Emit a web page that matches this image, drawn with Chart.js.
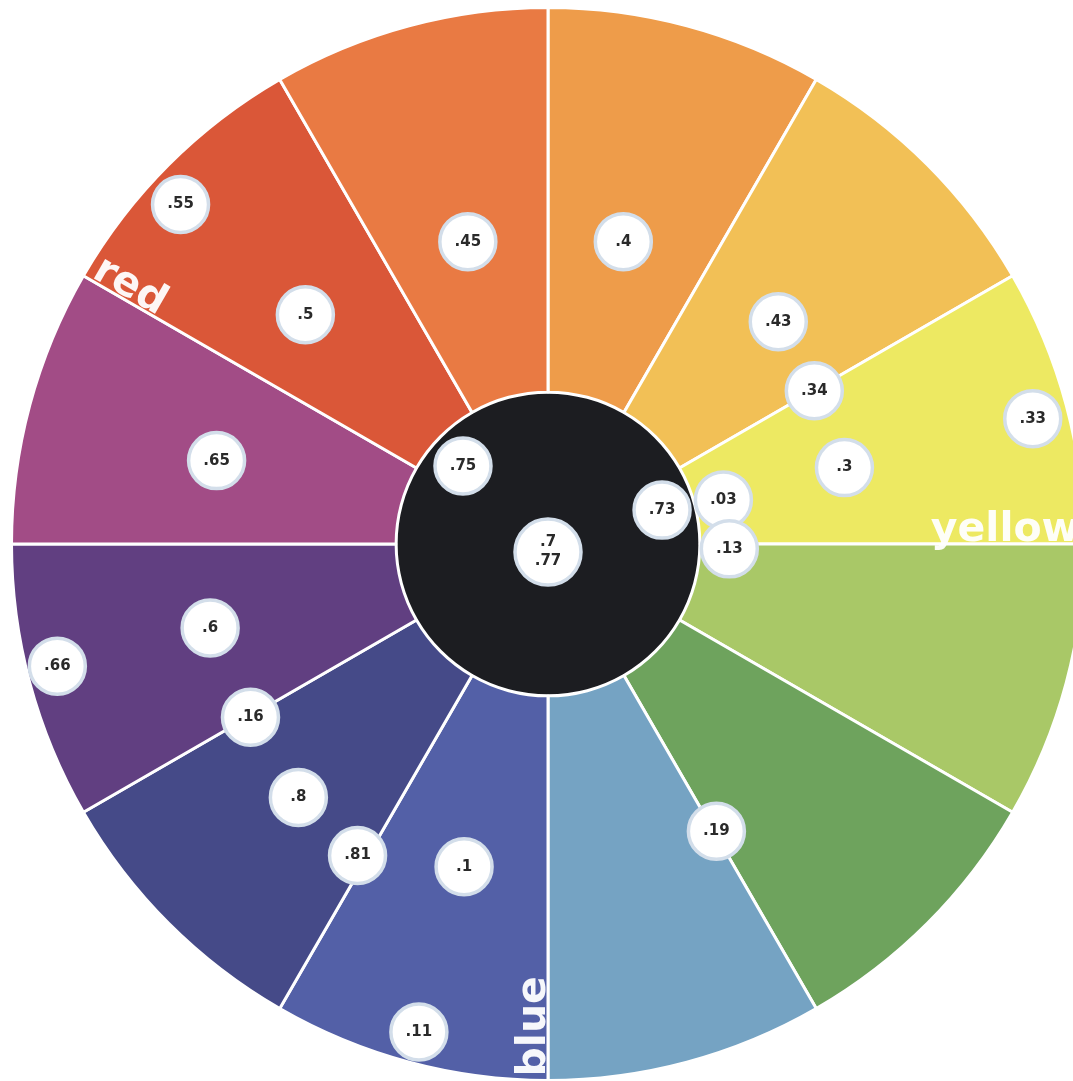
<!DOCTYPE html>
<html>
<head>
<meta charset="utf-8">
<title>Colour wheel</title>
<script src="https://cdn.jsdelivr.net/npm/chart.js@4.4.1/dist/chart.umd.min.js"></script>
<style>
  html, body { margin: 0; padding: 0; background: #fff; overflow: hidden; width: 1073px; height: 1081px; }
  .wheel { position: absolute; left: 10px; top: 6px; width: 1076px; height: 1076px; }
</style>
</head>
<body>
<div class="wheel"><canvas id="ring"></canvas></div>
<div class="wheel"><canvas id="dots"></canvas></div>
<script>
// 12 segments, clockwise from the top
const segments = ['yellow-orange 1', 'yellow-orange 2', 'yellow', 'yellow-green', 'green', 'light blue',
                  'blue', 'blue-violet', 'violet', 'red-violet', 'red', 'red-orange'];
const segmentValues = [1, 1, 1, 1, 1, 1, 1, 1, 1, 1, 1, 1];
const segmentColors = ['#EE9C4A', '#F2C056', '#EDE962', '#A9C867', '#6EA35D', '#75A3C3',
                       '#5360A7', '#454A88', '#613F81', '#A24C86', '#DA5738', '#E97A43'];

// names written along the dividers (angle clockwise from top)
const wheelNames = ['red', 'yellow', 'blue'];
const wheelNameAngles = [300, 90, 180];

// dots, in units of the wheel radius (x right, y up)
const dotLabels = ['.55', '.45', '.4', '.5', '.43', '.34', '.33', '.65', '.75', '.3', '.73', '.03', '.13',
                   '.7\n.77', '.6', '.66', '.16', '.8', '.81', '.1', '.19', '.11'];
const dotX = [-0.683, -0.149, 0.140, -0.451, 0.428, 0.495, 0.901, -0.616, -0.158, 0.551, 0.212, 0.326, 0.337,
              0.000, -0.628, -0.912, -0.553, -0.464, -0.354, -0.156, 0.313, -0.240];
const dotY = [0.631, 0.562, 0.562, 0.426, 0.413, 0.285, 0.233, 0.155, 0.145, 0.142, 0.063, 0.082, -0.009,
              -0.015, -0.156, -0.227, -0.322, -0.471, -0.579, -0.600, -0.534, -0.907];

// 名稱沿分隔線書寫
const namePlugin = {
  id: 'wheelNames',
  afterDatasetsDraw(chart) {
    const arc = chart.getDatasetMeta(0).data[0];
    if (!arc) return;
    const ctx = chart.ctx;
    const cx = arc.x, cy = arc.y, R = arc.outerRadius;
    const inset = { red: 7, yellow: 5, blue: 4 };
    ctx.save();
    ctx.fillStyle = 'rgba(255,255,255,0.95)';
    ctx.font = 'bold 41px "DejaVu Sans"';
    wheelNames.forEach((name, i) => {
      const a = wheelNameAngles[i] * Math.PI / 180;
      const dx = Math.sin(a), dy = -Math.cos(a);
      const r = R - inset[name];
      ctx.save();
      ctx.translate(cx + dx * r, cy + dy * r);
      if (wheelNameAngles[i] === 90) {
        // reads towards the rim
        ctx.textAlign = 'right';
      } else {
        // reads from the rim towards the centre
        ctx.rotate(Math.atan2(-dy, -dx));
        ctx.textAlign = 'left';
      }
      ctx.textBaseline = 'alphabetic';
      ctx.fillText(name, 0, -3);
      ctx.restore();
    });
    ctx.restore();
  }
};

new Chart(document.getElementById('ring'), {
  type: 'doughnut',
  data: {
    labels: segments,
    datasets: [{
      data: segmentValues,
      backgroundColor: segmentColors,
      borderColor: '#ffffff',
      borderWidth: 3,
      weight: 385
    }, {
      data: [1],
      backgroundColor: ['#1C1D21'],
      borderWidth: 0,
      weight: 152
    }]
  },
  options: {
    responsive: true,
    maintainAspectRatio: false,
    animation: false,
    events: [],
    cutout: 0,
    hoverOffset: 0,
    layout: { padding: 0 },
    plugins: { legend: { display: false }, tooltip: { enabled: false } }
  },
  plugins: [namePlugin]
});

// 點上的數值
const dotTextPlugin = {
  id: 'dotText',
  afterDatasetsDraw(chart) {
    const ctx = chart.ctx;
    const pts = chart.getDatasetMeta(0).data;
    ctx.save();
    ctx.fillStyle = '#2a2a2a';
    ctx.font = 'bold 15px "DejaVu Sans"';
    ctx.textAlign = 'center';
    ctx.textBaseline = 'middle';
    pts.forEach((p, i) => {
      const lines = dotLabels[i].split('\n');
      const lh = 19;
      lines.forEach((line, j) => {
        ctx.fillText(line, p.x, p.y + (j - (lines.length - 1) / 2) * lh);
      });
    });
    ctx.restore();
  }
};

new Chart(document.getElementById('dots'), {
  type: 'scatter',
  data: {
    datasets: [{
      data: dotLabels.map((l, i) => ({ x: dotX[i], y: dotY[i] })),
      pointRadius: dotLabels.map(l => l.includes('\n') ? 33 : 28),
      pointBackgroundColor: '#ffffff',
      pointBorderColor: '#d3deea',
      pointBorderWidth: 3.5
    }]
  },
  options: {
    responsive: true,
    maintainAspectRatio: false,
    animation: false,
    events: [],
    layout: { padding: 0, autoPadding: false },
    scales: {
      x: { type: 'linear', min: -1, max: 1, display: false },
      y: { type: 'linear', min: -1, max: 1, display: false }
    },
    plugins: { legend: { display: false }, tooltip: { enabled: false } }
  },
  plugins: [dotTextPlugin]
});
</script>
</body>
</html>
